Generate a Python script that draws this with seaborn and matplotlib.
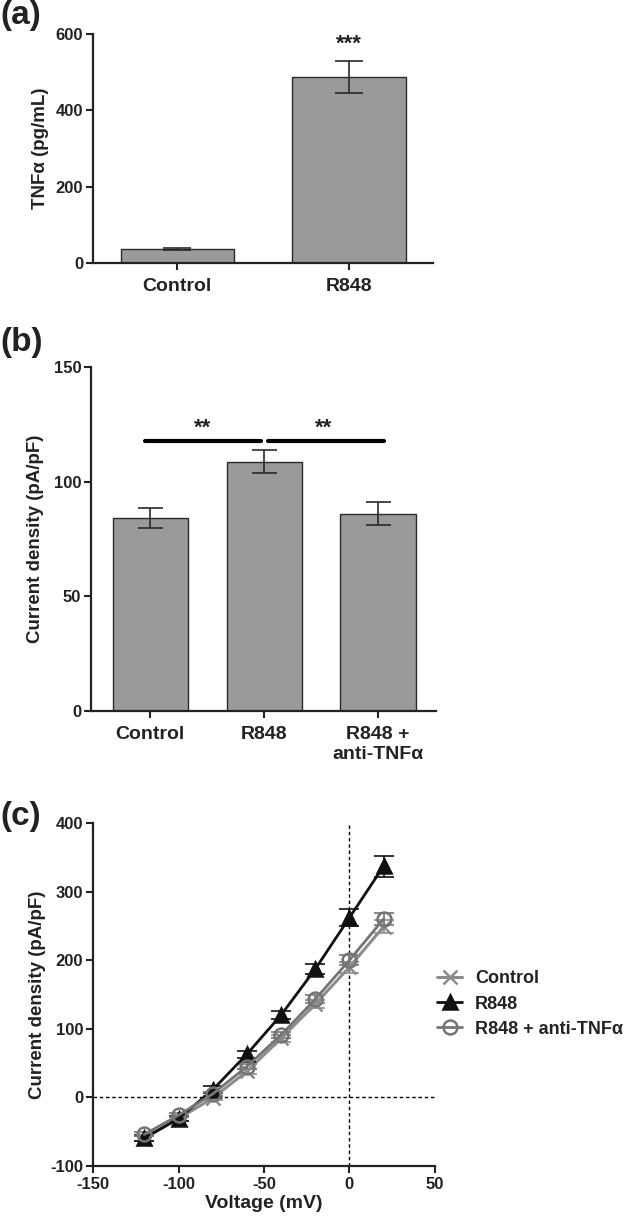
import matplotlib
matplotlib.use("Agg")
import matplotlib.pyplot as plt
import numpy as np
import pandas as pd
import seaborn as sns

# (a) TNFa secretion
tnf_groups = ["Control", "R848"]
tnf_mean = [37, 487]
tnf_sem = [2, 41]

# (b) peak current density
cd_groups = ["Control", "R848", "R848 +\nanti-TNF\u03b1"]
cd_mean = [84.0, 108.7, 86.0]
cd_sem = [4.4, 5.0, 5.0]

# (c) I-V relation
voltage = [-120, -100, -80, -60, -40, -20, 0, 20]
iv_control = [-60, -31, -1, 38, 86, 136, 190, 249]
iv_control_sem = [3, 3, 3, 4, 5, 6, 8, 9]
iv_r848 = [-59, -31, 11, 63, 120, 187, 262, 337]
iv_r848_sem = [4, 4, 5, 5, 6, 7, 12, 15]
iv_anti = [-54, -26, 5, 45, 91, 143, 200, 260]
iv_anti_sem = [3, 3, 3, 4, 5, 6, 7, 9]

sns.set_style("ticks")
plt.rcParams["font.family"] = ["Liberation Sans", "DejaVu Sans"]
plt.rcParams["font.weight"] = "bold"
plt.rcParams["axes.labelweight"] = "bold"
plt.rcParams["axes.unicode_minus"] = False

BAR = "#9a9a9a"
EDGE = "#2a2a2a"
TXT = "#222222"

fig = plt.figure(figsize=(6.33, 12.18), dpi=100)
ax_a = fig.add_axes([0.147, 0.7841, 0.537, 0.188])
ax_b = fig.add_axes([0.1438, 0.4163, 0.545, 0.2824])
ax_c = fig.add_axes([0.147, 0.0427, 0.540, 0.2816])


def style_axes(ax):
    for side in ["top", "right"]:
        ax.spines[side].set_visible(False)
    for side in ["left", "bottom"]:
        ax.spines[side].set_linewidth(1.6)
        ax.spines[side].set_color(TXT)
    ax.tick_params(axis="both", width=1.5, length=5, colors=TXT, labelsize=12, pad=2)


# ---- panel (a)
df_a = pd.DataFrame({"group": tnf_groups, "value": tnf_mean})
sns.barplot(data=df_a, x="group", y="value", ax=ax_a, color=BAR, width=0.66,
            edgecolor=EDGE, linewidth=1.0, errorbar=None, saturation=1)
ax_a.errorbar(range(len(tnf_groups)), tnf_mean, yerr=tnf_sem, fmt="none",
              ecolor=EDGE, elinewidth=1.2, capsize=10, capthick=1.2)
ax_a.text(1, tnf_mean[1] + tnf_sem[1] + 18, "***", ha="center", va="bottom",
          fontsize=16, color=TXT)
ax_a.set_ylim(0, 600)
ax_a.set_xlim(-0.49, 1.49)
ax_a.set_yticks([0, 200, 400, 600])
ax_a.set_xlabel("")
ax_a.set_ylabel("TNF\u03b1 (pg/mL)", fontsize=13.5, color=TXT, labelpad=5)
style_axes(ax_a)
ax_a.tick_params(axis="x", labelsize=14, pad=6)

# ---- panel (b)
df_b = pd.DataFrame({"group": cd_groups, "value": cd_mean})
sns.barplot(data=df_b, x="group", y="value", ax=ax_b, color=BAR, width=0.66,
            edgecolor=EDGE, linewidth=1.0, errorbar=None, saturation=1)
ax_b.errorbar(range(len(cd_groups)), cd_mean, yerr=cd_sem, fmt="none",
              ecolor=EDGE, elinewidth=1.2, capsize=9, capthick=1.2)
ax_b.plot([-0.05, 0.97], [117.7, 117.7], color="black", lw=3, solid_capstyle="round")
ax_b.plot([1.03, 2.05], [117.7, 117.7], color="black", lw=3, solid_capstyle="round")
ax_b.text(0.46, 118.6, "**", ha="center", va="bottom", fontsize=16, color=TXT)
ax_b.text(1.52, 118.6, "**", ha="center", va="bottom", fontsize=16, color=TXT)
ax_b.set_ylim(0, 150)
ax_b.set_xlim(-0.52, 2.51)
ax_b.set_yticks([0, 50, 100, 150])
ax_b.set_xlabel("")
ax_b.set_ylabel("Current density (pA/pF)", fontsize=13.5, color=TXT, labelpad=7)
style_axes(ax_b)
ax_b.tick_params(axis="x", labelsize=14, pad=6)

# ---- panel (c)
series = [
    ("Control", iv_control, iv_control_sem, "#8c8c8c", "x", "#8c8c8c", 2.2),
    ("R848", iv_r848, iv_r848_sem, "#111111", "^", "#111111", 2.0),
    ("R848 + anti-TNF\u03b1", iv_anti, iv_anti_sem, "#747474", "o", "none", 2.0),
]
ax_c.axhline(0, color="black", lw=1.0, ls=(0, (2.5, 2)), zorder=1)
ax_c.axvline(0, color="black", lw=1.0, ls=(0, (2.5, 2)), zorder=1)
for name, vals, sem, col, mk, face, lw in series:
    df_c = pd.DataFrame({"Voltage": voltage, "I": vals})
    ax_c.errorbar(voltage, vals, yerr=sem, fmt="none", ecolor=col, elinewidth=1.2,
                  capsize=7, capthick=1.2, zorder=2)
    sns.lineplot(data=df_c, x="Voltage", y="I", ax=ax_c, color=col, lw=lw,
                 marker=mk, markersize=10, markerfacecolor=face, markeredgecolor=col,
                 markeredgewidth=1.8, label=name, zorder=3)
ax_c.set_xlim(-150, 50)
ax_c.set_ylim(-100, 400)
ax_c.set_xticks([-150, -100, -50, 0, 50])
ax_c.set_yticks([-100, 0, 100, 200, 300, 400])
ax_c.set_xlabel("Voltage (mV)", fontsize=14, color=TXT, labelpad=2)
ax_c.set_ylabel("Current density (pA/pF)", fontsize=13.5, color=TXT, labelpad=3)
style_axes(ax_c)
ax_c.tick_params(axis="x", pad=3)
leg = ax_c.legend(loc="center left", bbox_to_anchor=(1.006, 0.472), frameon=False,
                  fontsize=13, handlelength=1.4, handletextpad=0.7, labelspacing=0.45,
                  borderpad=0, borderaxespad=0)
for t in leg.get_texts():
    t.set_color(TXT)

# panel letters
fig.text(0.0, 0.987, "(a)", fontsize=24, fontweight="bold", va="center", ha="left", color=TXT)
fig.text(0.0, 0.719, "(b)", fontsize=24, fontweight="bold", va="center", ha="left", color=TXT)
fig.text(0.0, 0.330, "(c)", fontsize=24, fontweight="bold", va="center", ha="left", color=TXT)

fig.savefig("out.png", dpi=100)
